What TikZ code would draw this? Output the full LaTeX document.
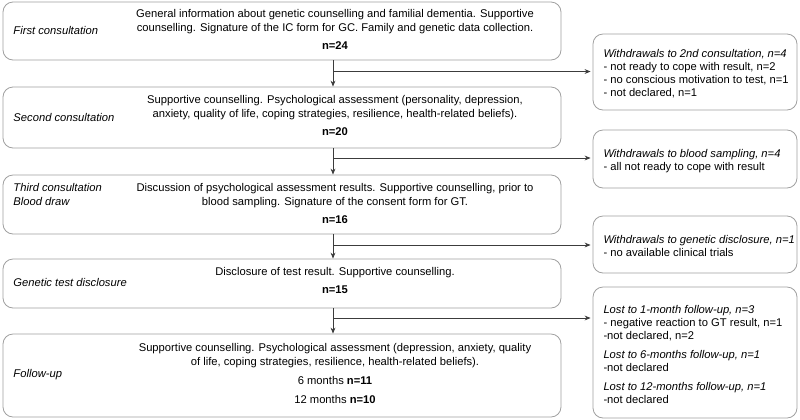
\documentclass[tikz,border=0pt]{standalone}
\usepackage{fontspec}
\setmainfont{Liberation Sans}
\usetikzlibrary{arrows.meta}

\definecolor{boxgray}{RGB}{160,160,160}
\definecolor{linegray}{RGB}{60,60,60}

\tikzset{
	stagebox/.style={draw=boxgray, rounded corners=7.5pt, line width=0.6pt, inner sep=0pt},
	flowarrow/.style={draw=linegray, line width=0.6pt, -{Stealth[length=4.5pt,width=3.6pt]}},
	bodytext/.style={inner sep=0pt, align=center, font=\fontsize{8.4}{10.5}\selectfont},
	sidetext/.style={inner sep=0pt, align=left, font=\fontsize{8.4}{10.5}\selectfont\itshape},
	droptext/.style={inner sep=0pt, align=left, font=\fontsize{8.4}{9.75}\selectfont}}
\tikzset{every picture/.style={line width=0.75pt}}

\begin{document}
\begin{tikzpicture}[x=0.75pt,y=0.75pt,yscale=-1,xscale=1]
	\useasboundingbox (0,0) rectangle (800,419);

	%Shape: Rounded Rect [id:stage1] 
	\node [stagebox, minimum width=418.5pt, minimum height=43.5pt] (stage1) at (282,31) {};
	%Shape: Rounded Rect [id:stage2] 
	\node [stagebox, minimum width=418.5pt, minimum height=45.75pt] (stage2) at (282,117.5) {};
	%Shape: Rounded Rect [id:stage3] 
	\node [stagebox, minimum width=418.5pt, minimum height=44.25pt] (stage3) at (282,204.5) {};
	%Shape: Rounded Rect [id:stage4] 
	\node [stagebox, minimum width=418.5pt, minimum height=36.75pt] (stage4) at (282,283.5) {};
	%Shape: Rounded Rect [id:stage5] 
	\node [stagebox, minimum width=418.5pt, minimum height=62.25pt] (stage5) at (282,375.5) {};

	%Shape: Rounded Rect [id:drop1] 
	\node [stagebox, minimum width=153pt, minimum height=57pt] (drop1) at (695,72) {};
	%Shape: Rounded Rect [id:drop2] 
	\node [stagebox, minimum width=153pt, minimum height=43.5pt] (drop2) at (695,159) {};
	%Shape: Rounded Rect [id:drop3] 
	\node [stagebox, minimum width=153pt, minimum height=42.75pt] (drop3) at (695,244.5) {};
	%Shape: Rounded Rect [id:drop4] 
	\node [stagebox, minimum width=153pt, minimum height=98.25pt] (drop4) at (695,352.5) {};

	% Branch points
	\coordinate (trunk) at (333,0);
	\coordinate (split1) at (333,71.5);
	\coordinate (split2) at (333,158);
	\coordinate (split3) at (333,245);
	\coordinate (split4) at (333,318);

	%Straight Lines [id:flow1] 
	\draw [flowarrow] (stage1.south -| trunk) -- (stage2.north -| trunk);
	\draw [flowarrow] (split1) -- ([xshift=-1.5]drop1.west |- split1);
	%Straight Lines [id:flow2] 
	\draw [flowarrow] (stage2.south -| trunk) -- (stage3.north -| trunk);
	\draw [flowarrow] (split2) -- ([xshift=-1.5]drop2.west |- split2);
	%Straight Lines [id:flow3] 
	\draw [flowarrow] (stage3.south -| trunk) -- (stage4.north -| trunk);
	\draw [flowarrow] (split3) -- ([xshift=-1.5]drop3.west |- split3);
	%Straight Lines [id:flow4] 
	\draw [flowarrow] (stage4.south -| trunk) -- (stage5.north -| trunk);
	\draw [flowarrow] (split4) -- ([xshift=-1.5]drop4.west |- split4);

	% Text Node
	\node [sidetext, anchor=west] (label1) at (13,30) {First consultation};
	% Text Node
	\node [sidetext, anchor=west] (label2) at (13,117) {Second consultation};
	% Text Node
	\node [sidetext, anchor=west] (label3) at (13,194.5) {Third consultation\\Blood draw};
	% Text Node
	\node [sidetext, anchor=west] (label4) at (13,282) {Genetic test disclosure};
	% Text Node
	\node [sidetext, anchor=west] (label5) at (13,375) {Follow-up};

	% Text Node
	\node [bodytext, anchor=north] (text1) at (335,8.5) {General information about genetic counselling and familial dementia. Supportive\\counselling. Signature of the IC form for GC. Family and genetic data collection.\\[3pt]\textbf{n=24}};
	% Text Node
	\node [bodytext, anchor=north] (text2) at (335,94.5) {Supportive counselling. Psychological assessment (personality, depression,\\anxiety, quality of life, coping strategies, resilience, health-related beliefs).\\[3pt]\textbf{n=20}};
	% Text Node
	\node [bodytext, anchor=north] (text3) at (335,182.5) {Discussion of psychological assessment results. Supportive counselling, prior to\\blood sampling. Signature of the consent form for GT.\\[3pt]\textbf{n=16}};
	% Text Node
	\node [bodytext, anchor=north] (text4) at (335,266.5) {Disclosure of test result. Supportive counselling.\\[3pt]\textbf{n=15}};
	% Text Node
	\node [bodytext, anchor=north] (text5) at (335,342.5) {Supportive counselling. Psychological assessment (depression, anxiety, quality\\of life, coping strategies, resilience, health-related beliefs).\\[3.75pt]6 months \textbf{n=11}\\[3.75pt]12 months \textbf{n=10}};

	% Text Node
	\node [droptext, anchor=north west] (why1) at (603,48.5) {\textit{Withdrawals to 2nd consultation, n=4}\\- not ready to cope with result, n=2\\- no conscious motivation to test, n=1\\- not declared, n=1};
	% Text Node
	\node [droptext, anchor=north west] (why2) at (603,148.5) {\textit{Withdrawals to blood sampling, n=4}\\- all not ready to cope with result};
	% Text Node
	\node [droptext, anchor=north west] (why3) at (603,234.5) {\textit{Withdrawals to genetic disclosure, n=1}\\- no available clinical trials};
	% Text Node
	\node [droptext, anchor=north west] (why4) at (603,304.5) {\textit{Lost to 1-month follow-up, n=3}\\- negative reaction to GT result, n=1\\-not declared, n=2\\[4.5pt]\textit{Lost to 6-months follow-up, n=1}\\-not declared\\[4.5pt]\textit{Lost to 12-months follow-up, n=1}\\-not declared};

\end{tikzpicture}
\end{document}
